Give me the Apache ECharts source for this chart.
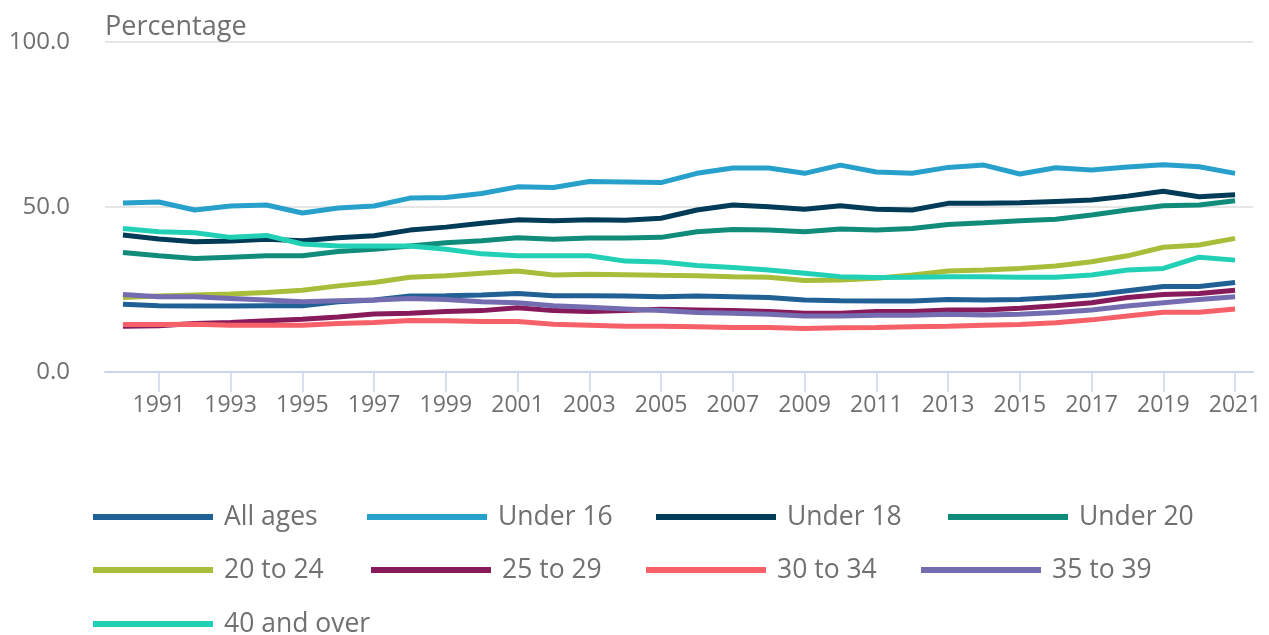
<!DOCTYPE html>
<html>
<head>
<meta charset="utf-8">
<script src="https://cdn.jsdelivr.net/npm/echarts@6/dist/echarts.min.js"></script>
<style>
html,body{margin:0;padding:0;background:#fff;}
#chart{width:1269px;height:635px;}
</style>
</head>
<body>
<div id="chart"></div>
<script>
const years = ['1990','1991','1992','1993','1994','1995','1996','1997','1998','1999','2000','2001','2002','2003','2004','2005','2006','2007','2008','2009','2010','2011','2012','2013','2014','2015','2016','2017','2018','2019','2020','2021'];
const yTicks = [0, 50, 100];
const seriesNames = ['All ages','Under 16','Under 18','Under 20','20 to 24','25 to 29','30 to 34','35 to 39','40 and over'];

const allAges   = [20.5,20.1,20.0,20.0,20.1,20.1,21.3,21.8,23.0,23.1,23.3,23.8,23.1,23.1,23.0,22.8,23.0,22.8,22.6,21.8,21.6,21.5,21.5,22.0,21.8,22.0,22.6,23.3,24.6,25.9,25.9,27.1];
const under16   = [51.2,51.5,49.1,50.3,50.6,48.2,49.7,50.3,52.7,52.9,54.1,56.1,55.9,57.7,57.6,57.4,60.2,61.8,61.8,60.2,62.7,60.6,60.2,62.0,62.7,60.0,61.9,61.2,62.1,62.8,62.2,60.2];
const under18   = [41.5,40.3,39.5,39.7,40.2,39.8,40.7,41.3,43.0,43.9,45.1,46.1,45.8,46.1,46.0,46.6,49.1,50.6,50.1,49.3,50.4,49.3,49.1,51.1,51.1,51.3,51.7,52.1,53.3,54.8,53.1,53.7];
const under20   = [36.2,35.2,34.4,34.8,35.2,35.2,36.5,37.2,38.2,39.2,39.8,40.7,40.2,40.6,40.6,40.8,42.5,43.2,43.0,42.5,43.3,43.0,43.5,44.7,45.2,45.8,46.3,47.6,49.1,50.4,50.6,51.9];
const age20to24 = [22.6,23.0,23.3,23.6,24.1,24.8,26.1,27.1,28.7,29.2,29.9,30.6,29.4,29.6,29.5,29.3,29.2,28.9,28.7,27.7,27.9,28.4,29.4,30.6,30.9,31.4,32.1,33.4,35.2,37.8,38.5,40.5];
const age25to29 = [13.9,14.0,14.7,15.0,15.5,16.0,16.7,17.6,17.8,18.3,18.6,19.5,18.6,18.3,18.6,19.0,18.8,18.6,18.3,17.8,17.8,18.3,18.3,18.8,18.8,19.3,20.1,21.0,22.6,23.5,23.8,24.8];
const age30to34 = [14.4,14.4,14.5,14.2,14.2,14.2,14.7,15.0,15.6,15.5,15.3,15.3,14.5,14.2,13.9,13.9,13.7,13.5,13.5,13.2,13.4,13.5,13.7,13.9,14.2,14.4,14.9,15.8,17.0,18.1,18.1,19.1];
const age35to39 = [23.5,22.8,22.8,22.3,21.8,21.3,21.6,21.8,22.3,22.0,21.3,21.0,20.1,19.6,19.1,18.6,18.0,17.8,17.5,17.0,17.0,17.2,17.2,17.5,17.3,17.5,18.0,18.8,20.0,21.0,22.0,22.8];
const age40plus = [43.5,42.5,42.2,40.8,41.4,38.8,38.2,38.2,38.2,37.2,35.8,35.2,35.2,35.2,33.6,33.3,32.3,31.7,30.9,29.9,28.9,28.6,28.7,28.9,28.9,28.7,28.7,29.4,30.9,31.4,34.8,33.9];

const seriesData = [allAges, under16, under18, under20, age20to24, age25to29, age30to34, age35to39, age40plus];
const colors = ['#206095','#27a0cc','#003c57','#118c7b','#a8bd3a','#871a5b','#f66068','#746cb1','#22d0b6'];

const FONT = '"Open Sans", sans-serif';
const TXT = '#707070';

// legend layout (one legend per item to mimic the original flow)
const legendPos = [
  {left: 93, top: 503}, {left: 367, top: 503}, {left: 656, top: 503}, {left: 948, top: 503},
  {left: 93, top: 556}, {left: 371, top: 556}, {left: 646, top: 556}, {left: 921, top: 556},
  {left: 93, top: 610}
];

const chart = echarts.init(document.getElementById('chart'), null, {renderer: 'canvas'});
const option = {
  animation: false,
  backgroundColor: '#fff',
  color: colors,
  grid: {left: 105, right: 16, top: 42, bottom: 263, containLabel: false},
  legend: seriesNames.map((n, i) => ({
    data: [n],
    left: legendPos[i].left,
    top: legendPos[i].top,
    icon: 'rect',
    itemWidth: 120,
    itemHeight: 6,
    padding: 0,
    textStyle: {fontFamily: FONT, fontSize: 26.5, color: TXT, padding: [0, 0, 0, 6], lineHeight: 28}
  })),
  xAxis: {
    type: 'category',
    data: years,
    boundaryGap: true,
    axisLine: {show: true, lineStyle: {color: '#ccd6eb', width: 2}},
    axisTick: {show: true, alignWithLabel: true, length: 20, interval: (i) => i % 2 === 1, lineStyle: {color: '#ccd6eb', width: 1.5}},
    axisLabel: {interval: (i) => i % 2 === 1, margin: 22, fontFamily: FONT, fontSize: 23, color: TXT},
    splitLine: {show: false}
  },
  yAxis: {
    type: 'value',
    min: yTicks[0],
    max: yTicks[yTicks.length - 1],
    interval: yTicks[1] - yTicks[0],
    name: 'Percentage',
    nameLocation: 'end',
    nameGap: 1,
    nameTextStyle: {align: 'left', fontFamily: FONT, fontSize: 27, color: TXT},
    axisLine: {show: false},
    axisTick: {show: false},
    axisLabel: {margin: 35, fontFamily: FONT, fontSize: 24, color: TXT, padding: [5, 0, 0, 0], formatter: (v) => v.toFixed(1)},
    splitLine: {show: true, lineStyle: {color: '#e6e6e6', width: 2}}
  },
  series: seriesNames.map((n, i) => ({
    name: n,
    type: 'line',
    data: seriesData[i],
    showSymbol: false,
    symbol: 'none',
    lineStyle: {width: 5, color: colors[i]},
    itemStyle: {color: colors[i]},
    emphasis: {disabled: true}
  }))
};
chart.setOption(option);
</script>
</body>
</html>
